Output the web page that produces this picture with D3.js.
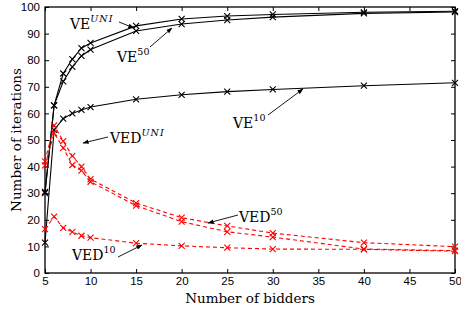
<!DOCTYPE html>
<html>
<head>
<meta charset="utf-8">
<script src="https://cdn.jsdelivr.net/npm/d3@7"></script>
<style>
  body { margin: 0; background: #fff; }
  svg { display: block; }
</style>
</head>
<body>
<svg id="chart" width="461" height="310"></svg>
<script>
// bidders on the x axis
var bidders = [5, 6, 7, 8, 9, 10, 15, 20, 25, 30, 40, 50];

// iterations
var veUni  = [30.5, 63, 75, 80.4, 84.5, 86.5, 92.9, 95.5, 96.6, 97.2, 98, 98.4];
var ve50   = [30, 63, 72, 77.5, 81.6, 84, 91, 93.6, 95.1, 96.2, 97.6, 98.1];
var ve10   = [11.4, 53.8, 58, 60, 61.3, 62.4, 65.3, 67, 68.2, 69, 70.4, 71.5];
var ved50  = [42, 55.5, 49.6, 44, 40, 35.3, 26.3, 20.8, 17.7, 15, 11.4, 9.9];
var vedUni = [40.5, 52.6, 47, 40.6, 38.5, 34.3, 25.3, 19.3, 15.5, 13.5, 9, 8.4];
var ved10  = [16.5, 21.2, 17, 15.5, 14, 13.3, 11.2, 10.2, 9.5, 9, 8.9, 8.2];

var xTicks = [5, 10, 15, 20, 25, 30, 35, 40, 45, 50];
var yTicks = [0, 10, 20, 30, 40, 50, 60, 70, 80, 90, 100];

var svg = d3.select("#chart");
var margin = {left: 45, right: 6, top: 7, bottom: 37};
var W = 461, H = 310;
var plotW = W - margin.left - margin.right;
var plotH = H - margin.top - margin.bottom;

var x = d3.scaleLinear().domain([5, 50]).range([margin.left, margin.left + plotW]);
var y = d3.scaleLinear().domain([0, 100]).range([margin.top + plotH, margin.top]);

var tickFont = "'Liberation Sans', Arial, sans-serif";
var serif = "'DejaVu Serif', 'Liberation Serif', serif";

// axes with inward ticks
var gx = svg.append("g").attr("transform", "translate(0," + y(0) + ")")
    .call(d3.axisBottom(x).tickValues(xTicks).tickSizeInner(-4).tickSizeOuter(0).tickPadding(4));
var gxTop = svg.append("g").attr("transform", "translate(0," + y(100) + ")")
    .call(d3.axisTop(x).tickValues(xTicks).tickSizeInner(-4).tickSizeOuter(0).tickFormat(""));
var gy = svg.append("g").attr("transform", "translate(" + x(5) + ",0)")
    .call(d3.axisLeft(y).tickValues(yTicks).tickSizeInner(-4).tickSizeOuter(0).tickPadding(5));
var gyRight = svg.append("g").attr("transform", "translate(" + x(50) + ",0)")
    .call(d3.axisRight(y).tickValues(yTicks).tickSizeInner(-4).tickSizeOuter(0).tickFormat(""));

[gx, gxTop, gy, gyRight].forEach(function(g) {
    g.select(".domain").remove();
    g.selectAll("line").attr("stroke", "#000").attr("stroke-width", 1);
    g.selectAll("text").attr("font-family", tickFont).attr("font-size", 11.5).attr("fill", "#000");
});

// frame
svg.append("rect")
    .attr("x", x(5)).attr("y", y(100))
    .attr("width", x(50) - x(5)).attr("height", y(0) - y(100))
    .attr("fill", "none").attr("stroke", "#000").attr("stroke-width", 1.3);

// axis titles
svg.append("text")
    .attr("x", (x(5) + x(50)) / 2).attr("y", 303)
    .attr("text-anchor", "middle")
    .attr("font-family", serif).attr("font-size", 13.5)
    .text("Number of bidders");
svg.append("text")
    .attr("transform", "translate(21," + ((y(0) + y(100)) / 2) + ") rotate(-90)")
    .attr("text-anchor", "middle")
    .attr("font-family", serif).attr("font-size", 13.5)
    .text("Number of iterations");

var series = [
    {vals: veUni, color: "#000", dash: null},
    {vals: ve50, color: "#000", dash: null},
    {vals: ve10, color: "#000", dash: null},
    {vals: ved50, color: "#f00", dash: "4,3"},
    {vals: vedUni, color: "#f00", dash: "4,3"},
    {vals: ved10, color: "#f00", dash: "4,3"}
];

var line = d3.line()
    .x(function(d, i) { return x(bidders[i]); })
    .y(function(d) { return y(d); });

var ms = 3;
series.forEach(function(s) {
    svg.append("path")
        .datum(s.vals)
        .attr("d", line)
        .attr("fill", "none")
        .attr("stroke", s.color)
        .attr("stroke-width", 1.1)
        .attr("stroke-dasharray", s.dash);
    svg.append("g").selectAll("path")
        .data(s.vals)
        .join("path")
        .attr("d", function(d, i) {
            var cx = x(bidders[i]), cy = y(d);
            return "M" + (cx - ms) + "," + (cy - ms) + "L" + (cx + ms) + "," + (cy + ms) +
                   "M" + (cx - ms) + "," + (cy + ms) + "L" + (cx + ms) + "," + (cy - ms);
        })
        .attr("stroke", s.color)
        .attr("stroke-width", 1.1);
});

// arrow head
svg.append("defs").append("marker")
    .attr("id", "arrow")
    .attr("viewBox", "0 0 10 10")
    .attr("refX", 9).attr("refY", 5)
    .attr("markerWidth", 7).attr("markerHeight", 7)
    .attr("orient", "auto")
    .append("path")
    .attr("d", "M0,1.5L10,5L0,8.5Z")
    .attr("fill", "#000");

// annotations: label text, superscript, text position, arrow from/to
var notes = [
    {base: "VE", sup: "UNI", italic: true, tx: 70, ty: 29, a: [119, 22, 134, 28]},
    {base: "VE", sup: "50", italic: false, tx: 117, ty: 62, a: [150, 47, 172, 28]},
    {base: "VE", sup: "10", italic: false, tx: 233, ty: 128, a: [268, 115, 303, 89]},
    {base: "VED", sup: "UNI", italic: true, tx: 110, ty: 143, a: [108, 137, 83, 143]},
    {base: "VED", sup: "50", italic: false, tx: 239, ty: 222, a: [238, 215, 208, 223]},
    {base: "VED", sup: "10", italic: false, tx: 72, ty: 260, a: [118, 257, 142, 245]}
];

notes.forEach(function(n) {
    var t = svg.append("text")
        .attr("x", n.tx).attr("y", n.ty)
        .attr("font-family", serif).attr("font-size", 14);
    t.append("tspan").text(n.base);
    t.append("tspan")
        .attr("dy", -7)
        .attr("font-size", 9.5)
        .attr("font-style", n.italic ? "italic" : null)
        .attr("letter-spacing", n.italic ? 1 : null)
        .text(n.sup);
    svg.append("line")
        .attr("x1", n.a[0]).attr("y1", n.a[1])
        .attr("x2", n.a[2]).attr("y2", n.a[3])
        .attr("stroke", "#000").attr("stroke-width", 0.9)
        .attr("marker-end", "url(#arrow)");
});
</script>
</body>
</html>
